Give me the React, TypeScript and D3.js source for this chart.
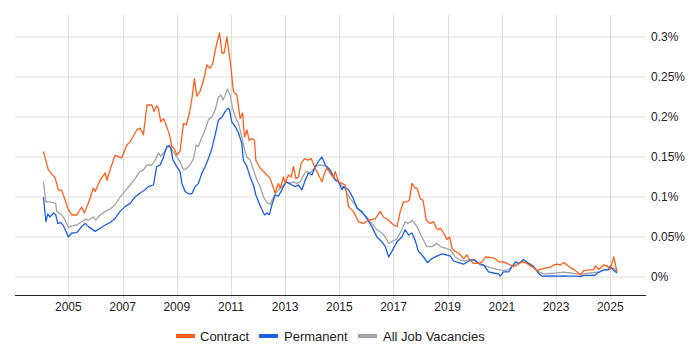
import React from 'react';
import * as d3 from 'd3';

// [decimal year, % of vacancies]
const contract: [number, number][] = [
  [2004.08, 0.157], [2004.26, 0.134], [2004.51, 0.124], [2004.63, 0.109], [2004.76, 0.108],
  [2005.0, 0.084], [2005.13, 0.0775], [2005.31, 0.0775], [2005.49, 0.0875], [2005.59, 0.08],
  [2005.74, 0.0925], [2005.92, 0.111], [2005.99, 0.107], [2006.17, 0.121], [2006.36, 0.13],
  [2006.42, 0.121], [2006.54, 0.134], [2006.72, 0.152], [2006.97, 0.149], [2007.16, 0.165],
  [2007.28, 0.169], [2007.46, 0.18], [2007.53, 0.184], [2007.65, 0.186], [2007.77, 0.178],
  [2007.9, 0.215], [2008.08, 0.215], [2008.16, 0.207], [2008.26, 0.214], [2008.32, 0.211],
  [2008.41, 0.194], [2008.51, 0.198], [2008.63, 0.188], [2008.73, 0.178], [2008.82, 0.163],
  [2008.9, 0.161], [2009.0, 0.1525], [2009.12, 0.157], [2009.25, 0.192], [2009.35, 0.19],
  [2009.47, 0.205], [2009.57, 0.225], [2009.65, 0.248], [2009.74, 0.226], [2009.86, 0.232],
  [2009.99, 0.246], [2010.11, 0.265], [2010.23, 0.261], [2010.33, 0.267], [2010.45, 0.288],
  [2010.58, 0.305], [2010.67, 0.28], [2010.75, 0.28], [2010.85, 0.3], [2010.97, 0.271],
  [2011.09, 0.232], [2011.22, 0.2275], [2011.34, 0.198], [2011.43, 0.205], [2011.5, 0.175],
  [2011.59, 0.184], [2011.67, 0.171], [2011.77, 0.173], [2011.87, 0.171], [2011.92, 0.146],
  [2012.08, 0.136], [2012.26, 0.13], [2012.45, 0.123], [2012.63, 0.105], [2012.75, 0.117],
  [2012.82, 0.111], [2012.94, 0.125], [2013.0, 0.117], [2013.12, 0.1275], [2013.22, 0.125],
  [2013.31, 0.138], [2013.4, 0.123], [2013.49, 0.125], [2013.59, 0.142], [2013.72, 0.148],
  [2013.84, 0.146], [2013.96, 0.148], [2014.11, 0.136], [2014.36, 0.119], [2014.48, 0.132],
  [2014.54, 0.136], [2014.66, 0.13], [2014.79, 0.124], [2014.85, 0.132], [2014.97, 0.119],
  [2015.1, 0.117], [2015.22, 0.115], [2015.34, 0.088], [2015.52, 0.082], [2015.71, 0.069],
  [2015.89, 0.067], [2016.08, 0.071], [2016.33, 0.073], [2016.51, 0.082], [2016.63, 0.075],
  [2016.82, 0.071], [2017.0, 0.065], [2017.13, 0.063], [2017.25, 0.082], [2017.37, 0.094],
  [2017.5, 0.094], [2017.59, 0.096], [2017.68, 0.117], [2017.8, 0.111], [2017.87, 0.111],
  [2017.99, 0.098], [2018.09, 0.096], [2018.21, 0.071], [2018.36, 0.067], [2018.48, 0.069],
  [2018.58, 0.061], [2018.66, 0.059], [2018.73, 0.061], [2018.85, 0.055], [2018.97, 0.047],
  [2019.07, 0.05], [2019.16, 0.036], [2019.28, 0.032], [2019.4, 0.03], [2019.59, 0.023],
  [2019.71, 0.0275], [2019.83, 0.021], [2019.96, 0.017], [2020.14, 0.017], [2020.27, 0.019],
  [2020.39, 0.025], [2020.57, 0.0245], [2020.76, 0.023], [2020.88, 0.019], [2021.06, 0.019],
  [2021.19, 0.017], [2021.31, 0.015], [2021.43, 0.013], [2021.56, 0.015], [2021.74, 0.019],
  [2021.93, 0.017], [2022.11, 0.013], [2022.3, 0.008], [2022.42, 0.0095], [2022.6, 0.011],
  [2022.79, 0.012], [2022.91, 0.015], [2023.04, 0.016], [2023.16, 0.015], [2023.28, 0.018],
  [2023.41, 0.015], [2023.53, 0.012], [2023.65, 0.0095], [2023.77, 0.0065], [2023.9, 0.0025],
  [2024.02, 0.008], [2024.27, 0.009], [2024.39, 0.009], [2024.45, 0.014], [2024.57, 0.0095],
  [2024.76, 0.015], [2024.88, 0.014], [2025.0, 0.0095], [2025.13, 0.025], [2025.25, 0.0065],
];

const permanent: [number, number][] = [
  [2004.08, 0.1], [2004.17, 0.069], [2004.24, 0.079], [2004.32, 0.075], [2004.45, 0.08],
  [2004.53, 0.078], [2004.61, 0.067], [2004.73, 0.068], [2004.82, 0.064], [2005.0, 0.05],
  [2005.13, 0.055], [2005.31, 0.0555], [2005.49, 0.063], [2005.62, 0.067], [2005.74, 0.063],
  [2005.99, 0.057], [2006.17, 0.061], [2006.36, 0.065], [2006.54, 0.068], [2006.72, 0.073],
  [2006.91, 0.082], [2007.09, 0.088], [2007.28, 0.092], [2007.46, 0.1], [2007.65, 0.105],
  [2007.83, 0.109], [2007.95, 0.113], [2008.14, 0.115], [2008.26, 0.138], [2008.39, 0.14],
  [2008.51, 0.15], [2008.63, 0.163], [2008.69, 0.164], [2008.78, 0.161], [2008.86, 0.146],
  [2009.0, 0.138], [2009.12, 0.132], [2009.19, 0.117], [2009.31, 0.107], [2009.43, 0.104],
  [2009.56, 0.104], [2009.68, 0.113], [2009.8, 0.117], [2009.93, 0.13], [2010.05, 0.138],
  [2010.17, 0.148], [2010.3, 0.161], [2010.42, 0.178], [2010.54, 0.196], [2010.67, 0.2],
  [2010.79, 0.207], [2010.89, 0.211], [2010.95, 0.209], [2011.03, 0.194], [2011.16, 0.188],
  [2011.28, 0.18], [2011.4, 0.167], [2011.46, 0.146], [2011.59, 0.138], [2011.71, 0.125],
  [2011.83, 0.115], [2011.92, 0.1025], [2012.02, 0.094], [2012.12, 0.086], [2012.24, 0.0775],
  [2012.33, 0.08], [2012.42, 0.078], [2012.51, 0.09], [2012.63, 0.1025], [2012.75, 0.101],
  [2012.85, 0.107], [2012.94, 0.113], [2013.04, 0.119], [2013.15, 0.117], [2013.25, 0.115],
  [2013.37, 0.113], [2013.49, 0.115], [2013.62, 0.109], [2013.74, 0.121], [2013.86, 0.13],
  [2013.99, 0.1275], [2014.11, 0.138], [2014.26, 0.146], [2014.36, 0.15], [2014.48, 0.14],
  [2014.66, 0.134], [2014.85, 0.121], [2014.97, 0.119], [2015.1, 0.109], [2015.16, 0.113],
  [2015.34, 0.109], [2015.52, 0.098], [2015.65, 0.086], [2015.83, 0.082], [2016.02, 0.073],
  [2016.2, 0.063], [2016.39, 0.05], [2016.57, 0.044], [2016.7, 0.038], [2016.82, 0.025],
  [2016.94, 0.032], [2017.13, 0.044], [2017.31, 0.05], [2017.43, 0.059], [2017.56, 0.0525],
  [2017.68, 0.055], [2017.8, 0.046], [2017.92, 0.032], [2017.99, 0.03], [2018.11, 0.025],
  [2018.26, 0.018], [2018.42, 0.023], [2018.6, 0.026], [2018.79, 0.029], [2018.97, 0.0275],
  [2019.1, 0.026], [2019.22, 0.02], [2019.4, 0.018], [2019.59, 0.016], [2019.77, 0.02],
  [2019.96, 0.022], [2020.14, 0.017], [2020.33, 0.015], [2020.51, 0.0065], [2020.69, 0.005],
  [2020.88, 0.004], [2020.94, 0.001], [2021.06, 0.0065], [2021.25, 0.0065], [2021.37, 0.013],
  [2021.5, 0.019], [2021.62, 0.017], [2021.8, 0.022], [2021.99, 0.017], [2022.17, 0.013],
  [2022.36, 0.0045], [2022.48, 0.001], [2022.79, 0.0015], [2023.04, 0.001], [2023.28, 0.0015],
  [2023.53, 0.001], [2023.77, 0.001], [2023.9, 0.0005], [2024.02, 0.002], [2024.27, 0.002],
  [2024.45, 0.0025], [2024.51, 0.0045], [2024.76, 0.009], [2024.94, 0.009], [2025.0, 0.014],
  [2025.13, 0.008], [2025.25, 0.005],
];

const allJobs: [number, number][] = [
  [2004.08, 0.119], [2004.17, 0.094], [2004.32, 0.094], [2004.45, 0.093], [2004.53, 0.092],
  [2004.57, 0.082], [2004.76, 0.0775], [2004.88, 0.071], [2005.0, 0.062], [2005.13, 0.064],
  [2005.31, 0.065], [2005.49, 0.069], [2005.62, 0.072], [2005.74, 0.071], [2005.92, 0.075],
  [2006.01, 0.071], [2006.17, 0.0775], [2006.36, 0.082], [2006.54, 0.085], [2006.72, 0.09],
  [2006.91, 0.1], [2007.09, 0.107], [2007.28, 0.115], [2007.46, 0.123], [2007.65, 0.132],
  [2007.77, 0.134], [2007.9, 0.14], [2008.08, 0.14], [2008.2, 0.146], [2008.32, 0.155],
  [2008.41, 0.151], [2008.51, 0.155], [2008.63, 0.161], [2008.73, 0.165], [2008.86, 0.157],
  [2009.0, 0.15], [2009.12, 0.144], [2009.25, 0.134], [2009.37, 0.136], [2009.49, 0.14],
  [2009.62, 0.148], [2009.72, 0.165], [2009.8, 0.163], [2009.93, 0.175], [2010.05, 0.184],
  [2010.17, 0.197], [2010.3, 0.2], [2010.42, 0.209], [2010.54, 0.225], [2010.63, 0.2275],
  [2010.7, 0.221], [2010.79, 0.2275], [2010.87, 0.235], [2010.97, 0.2275], [2011.06, 0.211],
  [2011.16, 0.2], [2011.28, 0.192], [2011.4, 0.175], [2011.5, 0.159], [2011.59, 0.15],
  [2011.71, 0.146], [2011.83, 0.134], [2011.96, 0.121], [2012.08, 0.113], [2012.2, 0.1],
  [2012.33, 0.093], [2012.45, 0.091], [2012.57, 0.1], [2012.7, 0.107], [2012.82, 0.111],
  [2012.94, 0.115], [2013.06, 0.118], [2013.19, 0.117], [2013.31, 0.119], [2013.43, 0.117],
  [2013.56, 0.119], [2013.68, 0.1275], [2013.8, 0.132], [2013.93, 0.13], [2014.05, 0.135],
  [2014.17, 0.139], [2014.3, 0.14], [2014.42, 0.139], [2014.48, 0.139], [2014.66, 0.132],
  [2014.85, 0.123], [2015.03, 0.117], [2015.22, 0.109], [2015.4, 0.098], [2015.59, 0.09],
  [2015.77, 0.082], [2016.02, 0.075], [2016.2, 0.067], [2016.39, 0.059], [2016.57, 0.055],
  [2016.7, 0.05], [2016.82, 0.042], [2016.94, 0.044], [2017.13, 0.048], [2017.31, 0.059],
  [2017.43, 0.069], [2017.52, 0.067], [2017.64, 0.069], [2017.68, 0.071], [2017.87, 0.063],
  [2018.05, 0.05], [2018.23, 0.038], [2018.42, 0.038], [2018.6, 0.042], [2018.73, 0.038],
  [2018.91, 0.036], [2019.1, 0.034], [2019.28, 0.025], [2019.46, 0.021], [2019.65, 0.02],
  [2019.83, 0.022], [2020.02, 0.021], [2020.2, 0.015], [2020.39, 0.014], [2020.57, 0.012],
  [2020.82, 0.0095], [2021.06, 0.008], [2021.25, 0.0095], [2021.43, 0.015], [2021.62, 0.017],
  [2021.8, 0.019], [2021.99, 0.017], [2022.17, 0.013], [2022.36, 0.0065], [2022.54, 0.004],
  [2022.79, 0.0045], [2023.04, 0.005], [2023.28, 0.006], [2023.53, 0.005], [2023.77, 0.004],
  [2024.02, 0.004], [2024.27, 0.005], [2024.57, 0.0065], [2024.88, 0.0095], [2025.13, 0.011],
  [2025.25, 0.0065],
];

const yearTicks = [2005, 2007, 2009, 2011, 2013, 2015, 2017, 2019, 2021, 2023, 2025];
const pctTicks = [0, 0.05, 0.1, 0.15, 0.2, 0.25, 0.3];

const series = [
  { name: 'Contract', color: '#ff5f1a', data: contract },
  { name: 'Permanent', color: '#1a5fe0', data: permanent },
  { name: 'All Job Vacancies', color: '#a3a3a3', data: allJobs },
];

const font = 'Arial, "Liberation Sans", sans-serif';

export default function App() {
  const width = 700;
  const height = 350;
  const left = 15;
  const right = 646;
  const top = 15;
  const bottom = 295;

  const x = d3.scaleLinear().domain([2003.03, 2026.32]).range([left, right]);
  const y = d3.scaleLinear().domain([-0.0225, 0.3275]).range([bottom, top]);

  const line = d3
    .line<[number, number]>()
    .x(d => x(d[0]))
    .y(d => y(d[1]));

  // legend positions (swatch start, text start)
  const legend = [
    { sx: 176, tx: 200 },
    { sx: 259, tx: 284 },
    { sx: 358, tx: 383 },
  ];

  return (
    <svg
      width={width}
      height={height}
      style={{ position: 'absolute', left: 0, top: 0, background: '#fff' }}
    >
      {pctTicks.map(t => (
        <line key={'h' + t} x1={left} x2={right} y1={y(t)} y2={y(t)} stroke="#e0e0e0" />
      ))}
      {yearTicks.map(t => (
        <line
          key={'v' + t}
          x1={Math.round(x(t)) + 0.5}
          x2={Math.round(x(t)) + 0.5}
          y1={top}
          y2={bottom + 4}
          stroke="#dcdcdc"
        />
      ))}
      {series
        .slice()
        .reverse()
        .map(s => (
          <path
            key={s.name}
            d={line(s.data) || ''}
            fill="none"
            stroke={s.color}
            strokeWidth={1.3}
            strokeLinejoin="round"
          />
        ))}
      <line x1={left} x2={right} y1={bottom + 0.5} y2={bottom + 0.5} stroke="#222" />
      {yearTicks.map(t => (
        <text
          key={'xt' + t}
          x={x(t)}
          y={311}
          textAnchor="middle"
          fontFamily={font}
          fontSize={12}
          fill="#222"
        >
          {t}
        </text>
      ))}
      {pctTicks.map(t => (
        <text
          key={'yt' + t}
          x={651}
          y={y(t) + 4}
          fontFamily={font}
          fontSize={12}
          fill="#222"
        >
          {d3.format('.2~f')(t) + '%'}
        </text>
      ))}
      {series.map((s, i) => (
        <g key={'lg' + s.name}>
          <rect x={legend[i].sx} y={334} width={19} height={4} fill={s.color} />
          <text x={legend[i].tx} y={340.5} fontFamily={font} fontSize={13} fill="#222">
            {s.name}
          </text>
        </g>
      ))}
    </svg>
  );
}
